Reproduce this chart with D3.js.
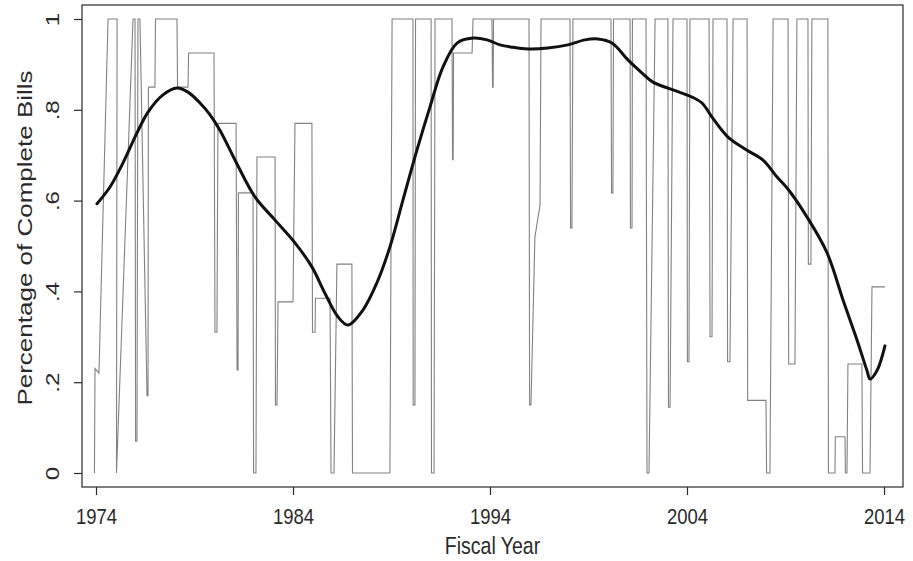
<!DOCTYPE html>
<html>
<head>
<meta charset="utf-8">
<script src="https://cdn.jsdelivr.net/npm/d3@7"></script>
<style>
  body { margin: 0; background: #fff; }
  svg { display: block; font-family: "Liberation Sans", Arial, Helvetica, sans-serif; }
</style>
</head>
<body>
<svg id="chart" width="913" height="561"></svg>
<script>
// ---- data ----
const stepYears = [
  1973.92, 1973.95, 1974.15, 1974.61, 1975.07, 1975.04, 1975.88, 1975.98, 1976.01, 1976.08,
  1976.13, 1976.23, 1976.59, 1976.64, 1976.66, 1976.99, 1977.02, 1978.11, 1978.14, 1978.67,
  1978.70, 1979.99, 1980.04, 1980.14, 1980.19, 1981.11, 1981.16, 1981.21, 1981.23, 1981.97,
  1982.00, 1982.12, 1982.17, 1983.09, 1983.11, 1983.19, 1983.24, 1984.00, 1984.10, 1984.96,
  1984.99, 1985.12, 1985.14, 1985.88, 1985.93, 1986.08, 1986.23, 1986.99, 1987.02, 1988.92,
  1989.03, 1990.09, 1990.10, 1990.19, 1990.22, 1991.01, 1991.03, 1991.16, 1991.21, 1992.07,
  1992.10, 1992.13, 1992.15, 1993.09, 1993.14, 1994.10, 1994.13, 1994.16, 1994.18, 1995.98,
  1996.01, 1996.08, 1996.28, 1996.54, 1996.59, 1998.06, 1998.09, 1998.16, 1998.21, 2000.14,
  2000.17, 2000.24, 2000.27, 2001.11, 2001.13, 2001.21, 2001.23, 2001.92, 2001.97, 2002.07,
  2002.38, 2003.03, 2003.06, 2003.14, 2003.29, 2004.00, 2004.02, 2004.10, 2004.15, 2005.12,
  2005.17, 2005.27, 2005.32, 2006.03, 2006.06, 2006.18, 2006.34, 2007.05, 2007.08, 2008.01,
  2008.04, 2008.21, 2008.37, 2009.13, 2009.16, 2009.48, 2009.58, 2010.14, 2010.16, 2010.29,
  2010.34, 2011.15, 2011.18, 2011.51, 2011.53, 2012.02, 2012.04, 2012.12, 2012.17, 2012.88,
  2012.91, 2013.29, 2013.39, 2014.05
];
const stepShares = [
  0, 0.23, 0.22, 1, 1, 0, 1, 1, 0.07, 0.07,
  1, 1, 0.17, 0.17, 0.85, 0.85, 1, 1, 0.85, 0.85,
  0.925, 0.925, 0.31, 0.31, 0.77, 0.77, 0.227, 0.227, 0.617, 0.617,
  0, 0, 0.696, 0.696, 0.15, 0.15, 0.377, 0.377, 0.77, 0.77,
  0.31, 0.31, 0.385, 0.385, 0, 0, 0.46, 0.46, 0, 0,
  1, 1, 0.15, 0.15, 1, 1, 0, 0, 1, 1,
  0.69, 0.69, 0.925, 0.925, 1, 1, 0.85, 0.85, 1, 1,
  0.15, 0.15, 0.52, 0.59, 1, 1, 0.54, 0.54, 1, 1,
  0.617, 0.617, 1, 1, 0.54, 0.54, 1, 1, 0, 0,
  1, 1, 0.145, 0.145, 1, 1, 0.245, 0.245, 1, 1,
  0.30, 0.30, 1, 1, 0.245, 0.245, 1, 1, 0.16, 0.16,
  0, 0, 1, 1, 0.24, 0.24, 1, 1, 0.46, 0.46,
  1, 1, 0, 0, 0.08, 0.08, 0, 0, 0.24, 0.24,
  0, 0, 0.41, 0.41
];
const smoothYears = [
  1974.05, 1974.71, 1975.37, 1976.08, 1976.64, 1977.40, 1978.11, 1978.67, 1979.28, 1979.79,
  1980.29, 1981.06, 1982.07, 1983.09, 1984.10, 1984.96, 1985.62, 1986.28, 1986.79, 1987.55,
  1988.26, 1988.92, 1989.58, 1990.29, 1990.95, 1991.61, 1992.33, 1993.14, 1993.85, 1994.51,
  1995.12, 1995.93, 1996.94, 1997.96, 1998.82, 1999.48, 2000.19, 2001.00, 2001.72, 2002.27,
  2003.29, 2004.26, 2004.76, 2005.27, 2006.08, 2007.05, 2007.86, 2008.57, 2009.13, 2010.09,
  2011.11, 2011.92, 2012.63, 2013.14, 2013.29, 2013.64, 2014.05
];
const smoothShares = [
  0.593, 0.630, 0.683, 0.749, 0.795, 0.833, 0.848, 0.839, 0.815, 0.789,
  0.755, 0.689, 0.608, 0.557, 0.507, 0.454, 0.396, 0.344, 0.326, 0.359,
  0.419, 0.498, 0.601, 0.711, 0.806, 0.894, 0.947, 0.958, 0.954, 0.943,
  0.938, 0.934, 0.936, 0.943, 0.954, 0.956, 0.947, 0.910, 0.881, 0.861,
  0.844, 0.828, 0.815, 0.784, 0.740, 0.711, 0.689, 0.652, 0.625, 0.564,
  0.485, 0.381, 0.293, 0.225, 0.207, 0.225, 0.280
];
const xTickValues = [1974, 1984, 1994, 2004, 2014];
const yTickValues = [0, 0.2, 0.4, 0.6, 0.8, 1];
const yTickLabels = ["0", ".2", ".4", ".6", ".8", "1"];
const xTitle = "Fiscal Year";
const yTitle = "Percentage of Complete Bills";

// ---- layout ----
const frame = { left: 82, right: 903, top: 5, bottom: 487 };
const svg = d3.select("#chart");
const x = d3.scaleLinear().domain([1974, 2014]).range([96, 884]);
const y = d3.scaleLinear().domain([0, 1]).range([473, 19]);
const ink = "#2a2a2a";

// frame
svg.append("rect")
  .attr("x", frame.left).attr("y", frame.top)
  .attr("width", frame.right - frame.left).attr("height", frame.bottom - frame.top)
  .attr("fill", "none").attr("stroke", ink).attr("stroke-width", 1.2);

// step (raw) series
const idxStep = d3.range(stepYears.length);
svg.append("path")
  .datum(idxStep)
  .attr("fill", "none")
  .attr("stroke", "#828282")
  .attr("stroke-width", 1.1)
  .attr("d", d3.line().x(i => x(stepYears[i])).y(i => y(stepShares[i])));

// smoothed series
const idxSmooth = d3.range(smoothYears.length);
svg.append("path")
  .datum(idxSmooth)
  .attr("fill", "none")
  .attr("stroke", "#111")
  .attr("stroke-width", 3)
  .attr("stroke-linecap", "round")
  .attr("d", d3.line().curve(d3.curveCatmullRom.alpha(0.5))
    .x(i => x(smoothYears[i])).y(i => y(smoothShares[i])));

// x axis
const gx = svg.append("g").attr("transform", `translate(0,${frame.bottom})`)
  .call(d3.axisBottom(x).tickValues(xTickValues).tickFormat(d3.format("d")).tickSize(8));
gx.select(".domain").remove();
gx.selectAll(".tick line").attr("stroke", ink).attr("stroke-width", 1.2);
gx.selectAll(".tick text")
  .attr("x", 0).attr("y", 0).attr("dy", 0)
  .attr("fill", ink)
  .style("font-size", "18.5px")
  .attr("transform", "translate(0,37) scale(1,1.2)");

// y axis
const gy = svg.append("g").attr("transform", `translate(${frame.left},0)`)
  .call(d3.axisLeft(y).tickValues(yTickValues).tickFormat((d, i) => yTickLabels[i]).tickSize(8));
gy.select(".domain").remove();
gy.selectAll(".tick line").attr("stroke", ink).attr("stroke-width", 1.2);
gy.selectAll(".tick text")
  .attr("x", 0).attr("y", 0).attr("dy", 0)
  .attr("fill", ink)
  .attr("text-anchor", "middle")
  .style("font-size", "18.5px")
  .attr("transform", "translate(-23,0) scale(1,1.3) rotate(-90)");

// axis titles
svg.append("text")
  .attr("text-anchor", "middle")
  .attr("fill", ink)
  .style("font-size", "19.5px")
  .attr("transform", `translate(${(frame.left + frame.right) / 2},554) scale(1,1.22)`)
  .text(xTitle);

svg.append("text")
  .attr("text-anchor", "middle")
  .attr("fill", ink)
  .style("font-size", "20px")
  .attr("transform", `translate(32,238) scale(1,1.3) rotate(-90)`)
  .text(yTitle);
</script>
</body>
</html>
